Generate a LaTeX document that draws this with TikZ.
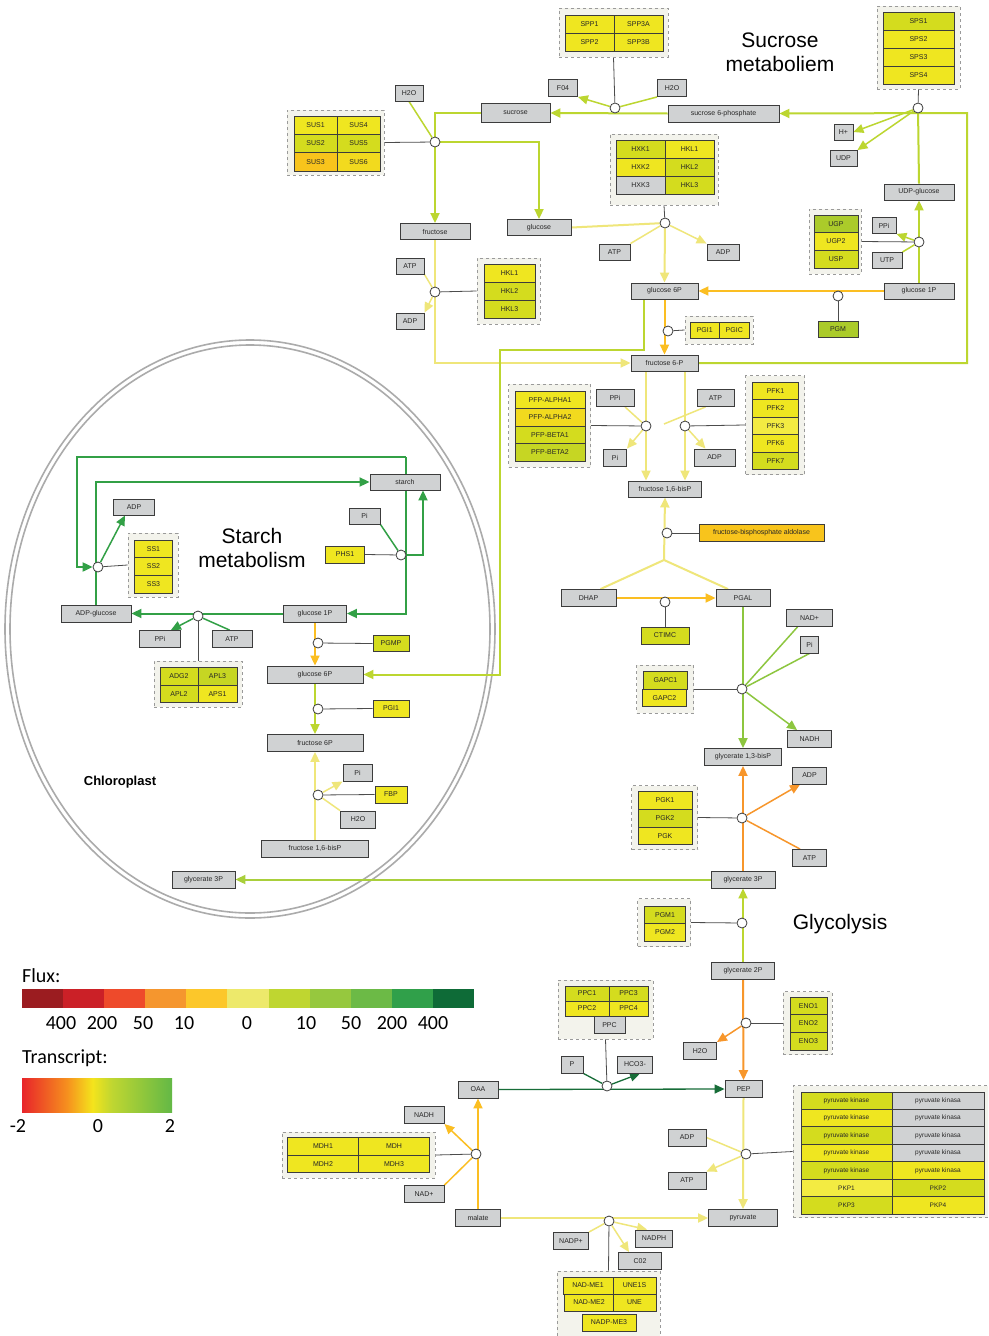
\documentclass[tikz,border=0pt]{standalone}
\usepackage{fontspec}
\setmainfont{Liberation Sans}
\newfontfamily\legendfont{Carlito}
\usetikzlibrary{arrows.meta,calc,backgrounds}

% box and cell colours
\definecolor{boxgrey}{HTML}{D0D2D3}
\definecolor{boxline}{HTML}{3C3C3C}
\definecolor{grpfill}{HTML}{F3F3EC}
\definecolor{grpline}{HTML}{9A9A9A}
\definecolor{cY}{HTML}{EFE620}
\definecolor{cYL}{HTML}{F3EB42}
\definecolor{cYO}{HTML}{F2DA1E}
\definecolor{cYG}{HTML}{D4DC1E}
\definecolor{cYG2}{HTML}{C6D623}
\definecolor{cG}{HTML}{ABCB2A}
\definecolor{cGold}{HTML}{F8C41C}
% flux colours of the connectors
\definecolor{eLY}{HTML}{EFE67A}
\definecolor{eYG}{HTML}{BCD630}
\definecolor{eYG2}{HTML}{A9CF3B}
\definecolor{eGold}{HTML}{FBBE22}
\definecolor{eOr}{HTML}{F7962B}
\definecolor{eGr}{HTML}{8DC63F}
\definecolor{eChl}{HTML}{32A046}
\definecolor{eDk}{HTML}{176D38}
\definecolor{ellgrey}{HTML}{ABABAB}
% legend colours
\definecolor{f1}{HTML}{9B1C20}
\definecolor{f2}{HTML}{CB2027}
\definecolor{f3}{HTML}{EE4A2B}
\definecolor{f4}{HTML}{F5962E}
\definecolor{f5}{HTML}{FCC72A}
\definecolor{f6}{HTML}{EDE96B}
\definecolor{f7}{HTML}{BFD630}
\definecolor{f8}{HTML}{96C83E}
\definecolor{f9}{HTML}{6CBA46}
\definecolor{f10}{HTML}{30A04A}
\definecolor{f11}{HTML}{0E6B37}
\definecolor{tR}{HTML}{E8242A}
\definecolor{tO}{HTML}{F6901E}
\definecolor{tY}{HTML}{F4E41C}
\definecolor{tYG}{HTML}{BFD631}
\definecolor{tG}{HTML}{63B846}
\pgfdeclarehorizontalshading{transcr}{100bp}{color(0bp)=(tR); color(25bp)=(tR); color(40bp)=(tO); color(48.5bp)=(tY); color(55bp)=(tYG); color(75bp)=(tG); color(100bp)=(tG)}

\newcommand\lbl{\fontsize{7}{8}\selectfont}
\newcommand\lbls{\fontsize{6.5}{7}\selectfont}
\newcommand\ttl{\fontsize{21}{24}\selectfont}
\newcommand\lgd{\legendfont\fontsize{20}{24}\selectfont}

\begin{document}
\begin{tikzpicture}[x=1pt,y=-1pt,
  met/.style={draw=boxline, fill=boxgrey, line width=0.9pt, inner sep=0pt, font=\lbl, text=black!85},
  enz/.style={draw=boxline, line width=0.9pt, inner sep=0pt, font=\lbl, text=black!85},
  grp/.style={draw=grpline, fill=grpfill, dashed, line width=0.8pt, inner sep=0pt},
  rx/.style={circle, draw=boxline, fill=white, line width=0.8pt, minimum size=10pt, inner sep=0pt},
  flux/.style={line width=2pt},
  side/.style={line width=1.5pt},
  arr/.style={-{Triangle[length=10pt,width=9pt]}},
  cat/.style={draw=black!70, line width=0.8pt},
  title/.style={align=center, font=\ttl, inner sep=0pt}]
\useasboundingbox (0,0) rectangle (988,1336);
\clip (0,0) rectangle (988,1336);

% ---------------- sucrose metabolism ----------------
\node[title] (tSuc) at (780,52) {Sucrose\\metaboliem};

\node[grp, minimum width=109, minimum height=49] (grpSPP) at (613.5,32.5) {};
\node[enz, fill=cY, minimum width=49, minimum height=18] (spp1) at (589.5,24) {SPP1};
\node[enz, fill=cY, minimum width=49, minimum height=18] (spp3a) at (638.5,24) {SPP3A};
\node[enz, fill=cY, minimum width=49, minimum height=18] (spp2) at (589.5,42) {SPP2};
\node[enz, fill=cY, minimum width=49, minimum height=18] (spp3b) at (638.5,42) {SPP3B};

\node[grp, minimum width=83, minimum height=83] (grpSPS) at (918.5,47.5) {};
\node[enz, fill=cYG, minimum width=71, minimum height=18] (sps1) at (918.5,21) {SPS1};
\node[enz, fill=cY, minimum width=71, minimum height=18] (sps2) at (918.5,39) {SPS2};
\node[enz, fill=cY, minimum width=71, minimum height=18] (sps3) at (918.5,57) {SPS3};
\node[enz, fill=cY, minimum width=71, minimum height=18] (sps4) at (918.5,75) {SPS4};

\node[met, minimum width=29, minimum height=17] (f04) at (563,88) {F04};
\node[met, minimum width=29, minimum height=17] (h2oA) at (672,88) {H2O};
\node[met, minimum width=28, minimum height=16] (h2oB) at (409,93) {H2O};
\node[met, minimum width=69, minimum height=19] (sucrose) at (515.5,113) {sucrose};
\node[met, minimum width=111, minimum height=17] (sucp) at (723.5,113.5) {sucrose 6-phosphate};
\node[met, minimum width=19, minimum height=16] (hplus) at (843.5,132) {H+};
\node[met, minimum width=27, minimum height=16] (udp) at (843.5,158.5) {UDP};
\node[met, minimum width=70, minimum height=16] (udpglc) at (919,192) {UDP-glucose};

\node[rx] (cSPP) at (615,108) {};
\node[rx] (cSPS) at (918,108) {};

\node[grp, minimum width=97, minimum height=65] (grpSUS) at (335.5,142.5) {};
\node[enz, fill=cY, minimum width=43, minimum height=18.3] (sus1) at (315.5,125.2) {SUS1};
\node[enz, fill=cY, minimum width=43, minimum height=18.3] (sus4) at (358.5,125.2) {SUS4};
\node[enz, fill=cYG, minimum width=43, minimum height=18.3] (sus2) at (315.5,143.5) {SUS2};
\node[enz, fill=cYG, minimum width=43, minimum height=18.3] (sus5) at (358.5,143.5) {SUS5};
\node[enz, fill=cGold, minimum width=43, minimum height=18.3] (sus3) at (315.5,161.8) {SUS3};
\node[enz, fill=cYO, minimum width=43, minimum height=18.3] (sus6) at (358.5,161.8) {SUS6};
\node[rx] (cSUS) at (435,142) {};

\node[met, minimum width=70, minimum height=16] (fructose) at (435,231.5) {fructose};
\node[met, minimum width=64, minimum height=16] (glucose) at (539,227.5) {glucose};

\node[grp, minimum width=108, minimum height=71] (grpHX) at (664,169.5) {};
\node[enz, fill=cYG, minimum width=49, minimum height=18] (hxk1) at (640.5,149) {HXK1};
\node[enz, fill=cY, minimum width=49, minimum height=18] (hkl1a) at (689.5,149) {HKL1};
\node[enz, fill=cY, minimum width=49, minimum height=18] (hxk2) at (640.5,167) {HXK2};
\node[enz, fill=cYG, minimum width=49, minimum height=18] (hkl2a) at (689.5,167) {HKL2};
\node[enz, fill=boxgrey, minimum width=49, minimum height=18] (hxk3) at (640.5,185) {HXK3};
\node[enz, fill=cYG, minimum width=49, minimum height=18] (hkl3a) at (689.5,185) {HKL3};
\node[rx] (cHX) at (665,223) {};

\node[met, minimum width=31, minimum height=16] (atpA) at (614.5,252) {ATP};
\node[met, minimum width=32, minimum height=16] (adpA) at (723,252) {ADP};
\node[met, minimum width=67, minimum height=16] (g6p) at (664.5,291) {glucose 6P};

\node[grp, minimum width=52, minimum height=65] (grpUGP) at (835,241.5) {};
\node[enz, fill=cG, minimum width=44, minimum height=17.7] (ugp) at (836,223.8) {UGP};
\node[enz, fill=cY, minimum width=44, minimum height=17.7] (ugp2) at (836,241.5) {UGP2};
\node[enz, fill=cYG, minimum width=44, minimum height=17.7] (usp) at (836,259.2) {USP};
\node[met, minimum width=24, minimum height=16] (ppiU) at (884,225.5) {PPi};
\node[met, minimum width=30, minimum height=16] (utp) at (887,260.5) {UTP};
\node[rx] (cUGP) at (919,242) {};
\node[met, minimum width=70, minimum height=16] (g1p) at (919,291) {glucose 1P};
\node[rx] (cPGM) at (838,296) {};
\node[enz, fill=cG, minimum width=40, minimum height=16] (pgm) at (838,329) {PGM};

\node[grp, minimum width=68, minimum height=28] (grpPGI) at (719,330) {};
\node[enz, fill=cY, minimum width=29.5, minimum height=16] (pgi1a) at (704.75,330) {PGI1};
\node[enz, fill=cY, minimum width=29.5, minimum height=16] (pgic) at (734.25,330) {PGIC};
\node[rx] (cPGI) at (668,331) {};

\node[met, minimum width=28, minimum height=16] (atpB) at (410,266) {ATP};
\node[met, minimum width=28, minimum height=16] (adpB) at (410,321) {ADP};
\node[grp, minimum width=63, minimum height=66] (grpHKL) at (508.5,291) {};
\node[enz, fill=cY, minimum width=51, minimum height=18] (hkl1) at (509.5,273) {HKL1};
\node[enz, fill=cYG, minimum width=51, minimum height=18] (hkl2) at (509.5,291) {HKL2};
\node[enz, fill=cYG, minimum width=51, minimum height=18] (hkl3) at (509.5,309) {HKL3};
\node[rx] (cHKL) at (435,292) {};

\node[met, minimum width=67, minimum height=16] (f6p) at (664.5,363) {fructose 6-P};

% ---------------- glycolysis ----------------
\node[grp, minimum width=82, minimum height=83] (grpPFP) at (549.5,425.5) {};
\node[enz, fill=cY, minimum width=70, minimum height=17.5] (pfpa1) at (550,399.75) {PFP-ALPHA1};
\node[enz, fill=cYO, minimum width=70, minimum height=17.5] (pfpa2) at (550,417.25) {PFP-ALPHA2};
\node[enz, fill=cYG, minimum width=70, minimum height=17.5] (pfpb1) at (550,434.75) {PFP-BETA1};
\node[enz, fill=cYG2, minimum width=70, minimum height=17.5] (pfpb2) at (550,452.25) {PFP-BETA2};
\node[met, minimum width=38, minimum height=17] (ppiF) at (615,398) {PPi};
\node[met, minimum width=23, minimum height=17] (piF) at (615,457.5) {Pi};
\node[rx] (cPFP) at (646,426) {};

\node[met, minimum width=37, minimum height=17] (atpF) at (715.5,398) {ATP};
\node[met, minimum width=41, minimum height=17] (adpF) at (714.5,457.5) {ADP};
\node[rx] (cPFK) at (685,426) {};
\coordinate (atpFend) at (664,424);
\node[grp, minimum width=59, minimum height=99] (grpPFK) at (775,425) {};
\node[enz, fill=cY, minimum width=46, minimum height=17.5] (pfk1) at (775.5,390.75) {PFK1};
\node[enz, fill=cY, minimum width=46, minimum height=17.5] (pfk2) at (775.5,408.25) {PFK2};
\node[enz, fill=cYL, minimum width=46, minimum height=17.5] (pfk3) at (775.5,425.75) {PFK3};
\node[enz, fill=cY, minimum width=46, minimum height=17.5] (pfk6) at (775.5,443.25) {PFK6};
\node[enz, fill=cYG, minimum width=46, minimum height=17.5] (pfk7) at (775.5,460.75) {PFK7};

\node[met, minimum width=73, minimum height=16] (fbp) at (665,489) {fructose 1,6-bisP};
\node[rx] (cALD) at (667,533) {};
\node[enz, fill=cGold, minimum width=125, minimum height=17] (ald) at (761.5,533) {fructose-bisphosphate aldolase};
\coordinate (jALD) at (664,560);

\node[met, minimum width=55, minimum height=17] (dhap) at (588.5,598) {DHAP};
\node[met, minimum width=54, minimum height=17] (pgal) at (743,598) {PGAL};
\node[rx] (cTIM) at (665,602) {};
\node[enz, fill=cYG, minimum width=48, minimum height=17] (ctimc) at (665,635.5) {CTIMC};

\node[met, minimum width=46, minimum height=17] (nadI) at (809.5,618) {NAD+};
\node[met, minimum width=18, minimum height=17] (piG) at (809.5,644.5) {Pi};
\node[grp, minimum width=57, minimum height=48] (grpGAP) at (665,689) {};
\node[enz, fill=cYG, minimum width=44, minimum height=17.5] (gapc1) at (665.5,680.5) {GAPC1};
\node[enz, fill=cY, minimum width=44, minimum height=17.5] (gapc2) at (664.5,698) {GAPC2};
\node[rx] (cGAP) at (742,689) {};
\node[met, minimum width=44, minimum height=17] (nadhG) at (809.5,739) {NADH};
\node[met, minimum width=77, minimum height=17] (g13bp) at (743,757) {glycerate 1,3-bisP};

\node[met, minimum width=34, minimum height=17] (adpG) at (809.5,775.5) {ADP};
\node[met, minimum width=34, minimum height=17] (atpG) at (809.5,858) {ATP};
\node[grp, minimum width=66, minimum height=64] (grpPGK) at (664.5,817.5) {};
\node[enz, fill=cY, minimum width=54, minimum height=17.7] (pgk1) at (665,800.5) {PGK1};
\node[enz, fill=cYG, minimum width=54, minimum height=17.7] (pgk2) at (665,818.2) {PGK2};
\node[enz, fill=cY, minimum width=54, minimum height=17.7] (pgk) at (665,835.9) {PGK};
\node[rx] (cPGK) at (742,818) {};
\node[met, minimum width=64, minimum height=17] (g3p) at (743,879.5) {glycerate 3P};

\node[title] (tGly) at (840,924) {Glycolysis};
\node[grp, minimum width=53, minimum height=48] (grpPGMg) at (664,922.5) {};
\node[enz, fill=cYG, minimum width=41, minimum height=17.5] (pgm1) at (665,914.75) {PGM1};
\node[enz, fill=cY, minimum width=41, minimum height=17.5] (pgm2) at (665,932.25) {PGM2};
\node[rx] (cPGMg) at (742,923) {};
\node[met, minimum width=63, minimum height=17] (g2p) at (743,970.5) {glycerate 2P};

\node[grp, minimum width=49, minimum height=63] (grpENO) at (807.5,1023) {};
\node[enz, fill=cYG, minimum width=37, minimum height=17.7] (eno1) at (808.5,1005.8) {ENO1};
\node[enz, fill=cYG, minimum width=37, minimum height=17.7] (eno2) at (808.5,1023.5) {ENO2};
\node[enz, fill=cYG, minimum width=37, minimum height=17.7] (eno3) at (808.5,1041.2) {ENO3};
\node[rx] (cENO) at (746,1023) {};
\node[met, minimum width=33, minimum height=17] (h2oE) at (700,1051) {H2O};
\node[met, minimum width=37, minimum height=17] (pep) at (743.5,1089) {PEP};

\node[grp, minimum width=95, minimum height=59] (grpPPC) at (605.5,1009.5) {};
\node[enz, fill=cYG, minimum width=44, minimum height=15] (ppc1) at (587,993.5) {PPC1};
\node[enz, fill=cYG, minimum width=39, minimum height=15] (ppc3) at (628.5,993.5) {PPC3};
\node[enz, fill=cY, minimum width=44, minimum height=15] (ppc2) at (587,1008.5) {PPC2};
\node[enz, fill=cY, minimum width=39, minimum height=15] (ppc4) at (628.5,1008.5) {PPC4};
\node[enz, fill=boxgrey, minimum width=31, minimum height=17] (ppc) at (609.5,1025) {PPC};
\node[met, minimum width=22, minimum height=17] (pP) at (572,1064.5) {P};
\node[met, minimum width=35, minimum height=17] (hco3) at (635,1064.5) {HCO3-};
\node[rx] (cPPC) at (607,1086) {};
\node[met, minimum width=40, minimum height=17] (oaa) at (478,1089.5) {OAA};

\node[met, minimum width=40, minimum height=17] (nadhM) at (424,1115) {NADH};
\node[met, minimum width=40, minimum height=17] (nadM) at (424,1194) {NAD+};
\node[grp, minimum width=153, minimum height=46] (grpMDH) at (358.5,1155) {};
\node[enz, fill=cY, minimum width=71, minimum height=17.5] (mdh1) at (323,1146.5) {MDH1};
\node[enz, fill=cY, minimum width=71, minimum height=17.5] (mdh) at (394,1146.5) {MDH};
\node[enz, fill=cY, minimum width=71, minimum height=17.5] (mdh2) at (323,1164) {MDH2};
\node[enz, fill=cY, minimum width=71, minimum height=17.5] (mdh3) at (394,1164) {MDH3};
\node[rx] (cMDH) at (476,1154) {};
\node[met, minimum width=45, minimum height=17] (malate) at (478,1218) {malate};

\node[met, minimum width=38, minimum height=17] (adpP) at (687,1137.5) {ADP};
\node[met, minimum width=38, minimum height=17] (atpP) at (687,1180.5) {ATP};
\node[rx] (cPK) at (746,1154) {};
\node[met, minimum width=69, minimum height=17] (pyruvate) at (743,1218) {pyruvate};

\node[grp, minimum width=196, minimum height=132] (grpPK) at (891,1151.5) {};
\foreach \k/\lc/\rc/\lt/\rt in {
  1/cYG/boxgrey/pyruvate kinase/pyruvate kinasa,
  2/cY/boxgrey/pyruvate kinase/pyruvate kinasa,
  3/cYG/boxgrey/pyruvate kinase/pyruvate kinasa,
  4/cY/boxgrey/pyruvate kinase/pyruvate kinasa,
  5/cYG/cY/pyruvate kinase/pyruvate kinasa,
  6/cYL/cYG/PKP1/PKP2,
  7/cYG/cY/PKP3/PKP4}{
  \node[enz, font=\lbls, fill=\lc, minimum width=91, minimum height=17.43] (pkL\k) at (846.5,{1092+17.43*(\k-0.5)}) {\lt};
  \node[enz, font=\lbls, fill=\rc, minimum width=92, minimum height=17.43] (pkR\k) at (938,{1092+17.43*(\k-0.5)}) {\rt};
}

\node[rx] (cME) at (609,1221) {};
\node[met, minimum width=35, minimum height=17] (nadpP) at (571,1241) {NADP+};
\node[met, minimum width=37, minimum height=17] (nadphP) at (654,1238.5) {NADPH};
\node[met, minimum width=43, minimum height=17] (co2) at (640,1261) {C02};
\node[grp, minimum width=103, minimum height=80] (grpME) at (608.5,1311) {};
\node[enz, fill=cY, minimum width=50, minimum height=17] (nadme1) at (588,1285.5) {NAD-ME1};
\node[enz, fill=cY, minimum width=43, minimum height=17] (une1s) at (634.5,1285.5) {UNE1S};
\node[enz, fill=cY, minimum width=49, minimum height=17] (nadme2) at (589,1302.5) {NAD-ME2};
\node[enz, fill=cY, minimum width=43, minimum height=17] (une) at (634.5,1302.5) {UNE};
\node[enz, fill=cY, minimum width=54, minimum height=17] (nadpme3) at (609,1322.5) {NADP-ME3};

% ---------------- chloroplast ----------------
\node[title] (tSta) at (252,548) {Starch\\metabolism};
\node[font=\bfseries\fontsize{13}{15}\selectfont, inner sep=0pt] (tChl) at (120,782) {Chloroplast};

\node[met, minimum width=70, minimum height=16] (starch) at (405,482) {starch};
\node[met, minimum width=41, minimum height=16] (adpS) at (134,507) {ADP};
\node[met, minimum width=31, minimum height=16] (piS) at (364.5,516) {Pi};
\node[enz, fill=cY, minimum width=39, minimum height=17] (phs1) at (345,554.5) {PHS1};
\node[rx] (cPHS) at (401,555) {};
\node[grp, minimum width=50, minimum height=64] (grpSS) at (153,565) {};
\node[enz, fill=cY, minimum width=38, minimum height=17.7] (ss1) at (153.5,548.8) {SS1};
\node[enz, fill=cY, minimum width=38, minimum height=17.7] (ss2) at (153.5,566.5) {SS2};
\node[enz, fill=cY, minimum width=38, minimum height=17.7] (ss3) at (153.5,584.2) {SS3};
\node[rx] (cSS) at (98,567) {};

\node[met, minimum width=70, minimum height=17] (adpglc) at (96,613.5) {ADP-glucose};
\node[met, minimum width=63, minimum height=17] (g1pC) at (315,613.5) {glucose 1P};
\node[rx] (cAGP) at (198,616) {};
\node[met, minimum width=41, minimum height=17] (ppiC) at (160,639) {PPi};
\node[met, minimum width=40, minimum height=17] (atpC) at (232,639) {ATP};
\node[grp, minimum width=88, minimum height=46] (grpAGP) at (198,684) {};
\node[enz, fill=cYG, minimum width=38, minimum height=17.5] (adg2) at (179,676.5) {ADG2};
\node[enz, fill=cYG2, minimum width=39, minimum height=17.5] (apl3) at (217.5,676.5) {APL3};
\node[enz, fill=cYG, minimum width=38, minimum height=17.5] (apl2) at (179,694) {APL2};
\node[enz, fill=cY, minimum width=39, minimum height=17.5] (aps1) at (217.5,694) {APS1};

\node[rx] (cPGMP) at (318,643) {};
\node[enz, fill=cYG, minimum width=36, minimum height=16] (pgmp) at (391,643.5) {PGMP};
\node[met, minimum width=96, minimum height=17] (g6pC) at (315,674.5) {glucose 6P};
\node[rx] (cPGI1) at (318,709) {};
\node[enz, fill=cY, minimum width=36, minimum height=17] (pgi1) at (391,708.5) {PGI1};
\node[met, minimum width=96, minimum height=17] (f6pC) at (315,743) {fructose 6P};
\node[met, minimum width=29, minimum height=17] (piC) at (357.5,772.5) {Pi};
\node[rx] (cFBP) at (318,795) {};
\node[enz, fill=cY, minimum width=32, minimum height=17] (fbpC) at (391,794.5) {FBP};
\node[met, minimum width=35, minimum height=17] (h2oC) at (358,819.5) {H2O};
\node[met, minimum width=107, minimum height=17] (f16C) at (315,848.5) {fructose 1,6-bisP};
\node[met, minimum width=63, minimum height=17] (g3pC) at (203.5,879.5) {glycerate 3P};

\coordinate (loopTR) at (406,457);
\coordinate (loopTL) at (77,457);
\coordinate (chlIn) at (500,350);

% ---------------- connectors (behind the boxes) ----------------
\begin{scope}[on background layer]
  \fill[white] (0,0) rectangle (988,1336);
  % chloroplast envelope
  \draw[ellgrey, line width=1.6pt] (250,629) ellipse [x radius=245, y radius=289];
  \draw[ellgrey, line width=1.6pt] (250,629) ellipse [x radius=240, y radius=284];

  % sucrose phosphate synthase / phosphatase
  \draw[flux,eYG,arr] (sucp.west) -- (sucrose.east);
  \draw[side,eYG] (h2oA.south west) -- (cSPP);
  \draw[side,eYG,arr] (cSPP) -- (f04.south east);
  \draw[cat] (grpSPP.south) -- (cSPP);
  \draw[flux,eYG,arr] (f6p.east) -- (967,363) -- (967,113) -- (sucp.east);
  \draw[flux,eYG] (udpglc.north) -- (cSPS);
  \draw[side,eYG,arr] (cSPS) -- (hplus.east);
  \draw[side,eYG,arr] (cSPS) -- (udp.north east);
  \draw[cat] (grpSPS.south) -- (cSPS);
  % sucrose synthase
  \draw[flux,eYG,arr] (sucrose.west) -| (fructose.north);
  \draw[side,eYG] (h2oB.south) -- (cSUS);
  \draw[flux,eYG,arr] (cSUS) -| (glucose.north);
  \draw[cat] (grpSUS.east) -- (cSUS);
  % hexokinase
  \draw[flux,eLY] (glucose.east) -- (cHX);
  \draw[flux,eLY,arr] (cHX) -- (g6p.north);
  \draw[side,eLY] (atpA.north east) -- (cHX);
  \draw[side,eLY,arr] (cHX) -- (adpA.north west);
  \draw[cat] (grpHX.south) -- (cHX);
  % UDP-glucose pyrophosphorylase
  \draw[flux,eYG,arr] (g1p.north) -- (udpglc.south);
  \draw[side,eYG,arr] (cUGP) -- (ppiU.south east);
  \draw[side,eYG] (utp.north east) -- (cUGP);
  \draw[cat] (grpUGP.east) -- (cUGP);
  % phosphoglucomutase, isomerase
  \draw[flux,eGold,arr] (g1p.west) -- (g6p.east);
  \draw[cat] (pgm.north) -- (cPGM);
  \draw[flux,eGold,arr] (g6p.south) -- (f6p.north);
  \draw[cat] (grpPGI.west) -- (cPGI);
  % fructokinase
  \draw[flux,eLY,arr] (fructose.south) |- (f6p.west);
  \draw[side,eLY] (atpB.south east) -- (cHKL);
  \draw[side,eLY,arr] (cHKL) -- (adpB.north east);
  \draw[cat] (grpHKL.west) -- (cHKL);
  % glucose 6P into the plastid
  \draw[flux,eYG,arr] ($(g6p.south)+(-21,0)$) |- (chlIn) |- (g6pC.east);

  % PFP and PFK
  \draw[flux,eLY,arr] (f6p.south -| cPFP) -- (fbp.north -| cPFP);
  \draw[flux,eLY,arr] (f6p.south -| cPFK) -- (fbp.north -| cPFK);
  \draw[side,eLY] ($(ppiF.south)+(10,0)$) -- (cPFP);
  \draw[side,eLY,arr] (cPFP) -- (piF.north east);
  \draw[cat] (grpPFP.east) -- (cPFP);
  \draw[side,eLY] ($(atpF.south)+(-10,0)$) -- (atpFend);
  \draw[side,eLY,arr] (cPFK) -- ($(adpF.north)+(-9,0)$);
  \draw[cat] (grpPFK.west) -- (cPFK);
  % aldolase
  \draw[flux,eLY] ($(dhap.north)+(12,0)$) -- (jALD) -- ($(pgal.north)+(-15,0)$);
  \draw[flux,eLY,arr] (jALD) -- (fbp.south);
  \draw[cat] (ald.west) -- (cALD);
  % triose phosphate isomerase
  \draw[flux,eGold,arr] (dhap.east) -- (pgal.west);
  \draw[cat] (ctimc.north) -- (cTIM);
  % GAPDH
  \draw[flux,eGr,arr] (pgal.south) -- (g13bp.north);
  \draw[side,eGr] ($(nadI.south)+(-12,0)$) -- (cGAP);
  \draw[side,eGr] (piG.south) -- (cGAP);
  \draw[side,eGr,arr] (cGAP) -- ($(nadhG.north west)+(10,0)$);
  \draw[cat] (grpGAP.east) -- (cGAP);
  % PGK
  \draw[flux,eOr,arr] (g3p.north) -- (g13bp.south);
  \draw[side,eOr,arr] (cPGK) -- ($(adpG.south west)+(8,0)$);
  \draw[side,eOr] ($(atpG.north west)+(8,0)$) -- (cPGK);
  \draw[cat] (grpPGK.east) -- (cPGK);
  \draw[flux,eYG2,arr] (g3p.west) -- (g3pC.east);
  % PGM and enolase
  \draw[flux,eYG,arr] (g2p.north) -- (g3p.south);
  \draw[cat] (grpPGMg.east) -- (cPGMg);
  \draw[flux,eOr,arr] (g2p.south) -- (pep.north);
  \draw[side,eOr,arr] (cENO) -- (h2oE.north east);
  \draw[cat] (grpENO.west) -- (cENO);
  % PEP carboxylase
  \draw[eDk,line width=1.3pt,arr] (oaa.east) -- (pep.west);
  \draw[eDk,line width=1.3pt] (pP.south east) -- (cPPC);
  \draw[eDk,line width=1.3pt,arr] (cPPC) -- ($(hco3.south)+(5,0)$);
  \draw[cat] (grpPPC.south) -- (cPPC);
  % malate dehydrogenase
  \draw[flux,eGold,arr] (malate.north) -- (oaa.south);
  \draw[side,eGold,arr] (cMDH) -- (nadhM.south east);
  \draw[side,eGold] (nadM.north east) -- (cMDH);
  \draw[cat] (grpMDH.east) -- (cMDH);
  % pyruvate kinase
  \draw[flux,eLY,arr] (pep.south) -- (pyruvate.north);
  \draw[side,eLY] (adpP.east) -- (cPK);
  \draw[side,eLY,arr] (cPK) -- (atpP.north east);
  \draw[cat] (cPK) -- (grpPK.west);
  % malic enzyme
  \draw[flux,eLY,arr] (malate.east) -- (pyruvate.west);
  \draw[side,eLY] (nadpP.north east) -- (cME);
  \draw[side,eLY,arr] (cME) -- ($(nadphP.north west)+(12,0)$);
  \draw[side,eLY,arr] (cME) -- ($(co2.north)+(-11,0)$);
  \draw[cat] (cME) -- (grpME.north);

  % starch metabolism
  \draw[flux,eChl,arr] (loopTR) |- (g1pC.east);
  \draw[flux,eChl,arr] (loopTR) -- (loopTL) |- (cSS.west);
  \draw[flux,eChl,arr] (adpglc.north) |- (starch.west);
  \draw[side,eChl,arr] (cSS) -- ($(adpS.south)+(-9,0)$);
  \draw[cat] (grpSS.west) -- (cSS);
  \draw[side,eChl] (piS.south east) -- (cPHS);
  \draw[flux,eChl,arr] (cPHS) -| ($(starch.south)+(18,0)$);
  \draw[cat] (phs1.east) -- (cPHS);
  \draw[flux,eChl,arr] (g1pC.west) -- (adpglc.east);
  \draw[side,eChl,arr] (cAGP) -- ($(ppiC.north east)+(-10,0)$);
  \draw[side,eChl] ($(atpC.north west)+(18,0)$) -- (cAGP);
  \draw[cat] (cAGP) -- (grpAGP.north);
  \draw[flux,eGold,arr] (g1pC.south) -- (g6pC.north);
  \draw[cat] (pgmp.west) -- (cPGMP);
  \draw[flux,eYG,arr] (g6pC.south) -- (f6pC.north);
  \draw[cat] (pgi1.west) -- (cPGI1);
  \draw[flux,eLY,arr] (f16C.north) -- (f6pC.south);
  \draw[side,eLY,arr] (cFBP) -- (piC.south west);
  \draw[side,eLY] (h2oC.north west) -- (cFBP);
  \draw[cat] (fbpC.west) -- (cFBP);
\end{scope}

% ---------------- legend ----------------
\node[anchor=base west, font=\lgd, inner sep=0pt] (lFlux) at (22,982) {Flux:};
\foreach \i/\c in {0/f1,1/f2,2/f3,3/f4,4/f5,5/f6,6/f7,7/f8,8/f9,9/f10,10/f11}
  \fill[\c] ({22+\i*41.09},989) rectangle ({22+(\i+1)*41.09},1007.5);
\foreach \n/\x/\t in {a/61/400,b/102/200,c/143/50,d/184/10,e/247/0,f/306/10,g/351/50,h/392/200,i/433/400}
  \node[anchor=base, font=\lgd, inner sep=0pt] (lf\n) at (\x,1029) {\t};
\node[anchor=base west, font=\lgd, inner sep=0pt] (lTr) at (22,1063) {Transcript:};
\shade[shading=transcr] (22,1078) rectangle (172,1112);
\node[anchor=base, font=\lgd, inner sep=0pt] (lt1) at (18,1132) {-2};
\node[anchor=base, font=\lgd, inner sep=0pt] (lt2) at (98,1132) {0};
\node[anchor=base, font=\lgd, inner sep=0pt] (lt3) at (170,1132) {2};
\end{tikzpicture}
\end{document}
